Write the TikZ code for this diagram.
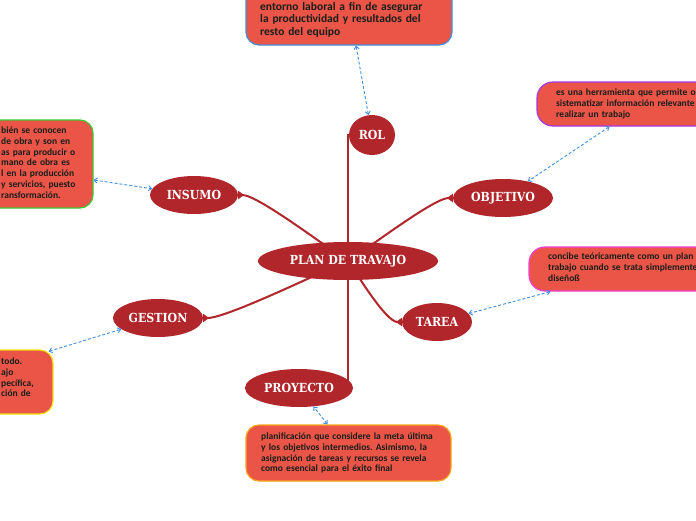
\documentclass[tikz,border=0pt]{standalone}
\usepackage{fontspec}
\usetikzlibrary{shapes.geometric, arrows.meta, backgrounds}
\newfontfamily\notafont{Carlito}
\newfontfamily\temafont[FakeStretch=0.88]{DejaVu Serif}
\definecolor{rojotema}{RGB}{176,38,42}
\definecolor{rojonota}{RGB}{234,85,72}
\definecolor{tinta}{RGB}{24,30,26}
\definecolor{azul}{RGB}{61,143,224}
\definecolor{bordeazul}{RGB}{63,143,219}
\definecolor{bordeverde}{RGB}{58,203,46}
\definecolor{bordemorado}{RGB}{166,58,224}
\definecolor{bordemagenta}{RGB}{240,64,208}
\definecolor{bordeamarillo}{RGB}{242,227,17}
\definecolor{bordenaranja}{RGB}{247,162,27}
\frenchspacing

\begin{document}
\begin{tikzpicture}[x=1pt, y=-1pt,
  tema/.style={ellipse, fill=rojotema, text=white, inner sep=0pt, minimum height=38pt,
               font=\temafont\bfseries\fontsize{12.5}{14}\selectfont},
  nota/.style={rectangle, rounded corners=13pt, fill=rojonota, line width=1.2pt},
  txt/.style={anchor=base west, inner sep=0pt, align=left, text width=220pt, text=tinta,
              font=\notafont\bfseries\fontsize{9.5}{10.8}\selectfont},
  rama/.style={draw=rojotema, line width=2pt, -{Triangle[reversed, length=6pt, width=8pt]}},
  enl/.style={draw=azul, line width=0.9pt, dash pattern=on 3pt off 2pt,
              {Straight Barb[length=3pt, width=5pt]}-{Straight Barb[length=3pt, width=5pt]}}
]
\useasboundingbox (0,0) rectangle (696,520);

% temas
\node[tema, minimum width=180pt] (plan) at (348,261) {PLAN DE TRAVAJO};
\node[tema, minimum width=46pt, minimum height=40pt] (rol) at (372,135) {ROL};
\node[tema, minimum width=88pt] (insumo) at (194,195) {INSUMO};
\node[tema, minimum width=100pt] (objetivo) at (503,198) {OBJETIVO};
\node[tema, minimum width=70pt] (tarea) at (437,322) {TAREA};
\node[tema, minimum width=90pt] (gestion) at (158,318) {GESTION};
\node[tema, minimum width=108pt] (proyecto) at (299,388) {PROYECTO};

% notas
\node[nota, draw=bordeazul, minimum width=206pt, minimum height=85pt] (rolbox) at (349,2.5) {};
\node[txt, font=\notafont\bfseries\fontsize{11.5}{12.5}\selectfont] (roltxt) at (260,10)
  {entorno laboral a fin de asegurar\\la productividad y resultados del\\resto del equipo};
\node[nota, draw=bordeverde, minimum width=133pt, minimum height=88pt] (insbox) at (26.5,164) {};
\node[txt] (instxt) at (1,133.5)
  {bién se conocen\\de obra y son en\\as para producir o\\mano de obra es\\l en la producción\\y servicios, puesto\\ransformación.};
\node[nota, rounded corners=16pt, draw=bordemorado, minimum width=183pt, minimum height=44pt] (objbox) at (628.5,104) {};
\node[txt] (objtxt) at (556,95.5)
  {es una herramienta que permite or\\sistematizar información relevante\\realizar un trabajo};
\node[nota, rounded corners=16pt, draw=bordemagenta, minimum width=191pt, minimum height=44pt] (tarbox) at (624.5,269) {};
\node[txt] (tartxt) at (548,259.5)
  {concibe teóricamente como un plan d\\trabajo cuando se trata simplemente\\diseñoß};
\node[nota, draw=bordeamarillo, minimum width=93pt, minimum height=64pt] (gesbox) at (6.5,382) {};
\node[txt] (gestxt) at (1,364.5) {todo.\\ajo\\pecífica,\\ción de};
\node[nota, draw=bordenaranja, minimum width=205pt, minimum height=56pt] (proybox) at (348.5,453) {};
\node[txt] (proytxt) at (261,439.5)
  {planificación que considere la meta última\\y los objetivos intermedios. Asimismo, la\\asignación de tareas y recursos se revela\\como esencial para el éxito final};

% ramas
\begin{scope}[on background layer]
\draw[rama, -] (plan) |- (rol.west);
\draw[rama, -] (plan) |- (proyecto.east);
\draw[rama] (plan.center) to[out=149, in=0, looseness=0.4] (insumo.east);
\draw[rama] (plan.center) to[out=31, in=180, looseness=0.4] (objetivo.west);
\draw[rama] (plan.center) to[out=-55, in=180, looseness=0.5] (tarea.west);
\draw[rama] (plan.center) to[out=-159, in=0, looseness=0.4] (gestion.east);
\end{scope}

% enlaces
\draw[enl] ([xshift=7pt]rolbox.south) -- (rol);
\draw[enl] ([yshift=-16pt]insbox.east) -- (insumo);
\draw[enl] ([xshift=-19pt]objbox.south) -- (objetivo);
\draw[enl] ([xshift=-74pt]tarbox.south) -- (tarea);
\draw[enl] ([xshift=-5pt, yshift=-2pt]gesbox.north east) -- (gestion);
\draw[enl] ([xshift=-21pt]proybox.north) -- (proyecto);
\end{tikzpicture}
\end{document}
